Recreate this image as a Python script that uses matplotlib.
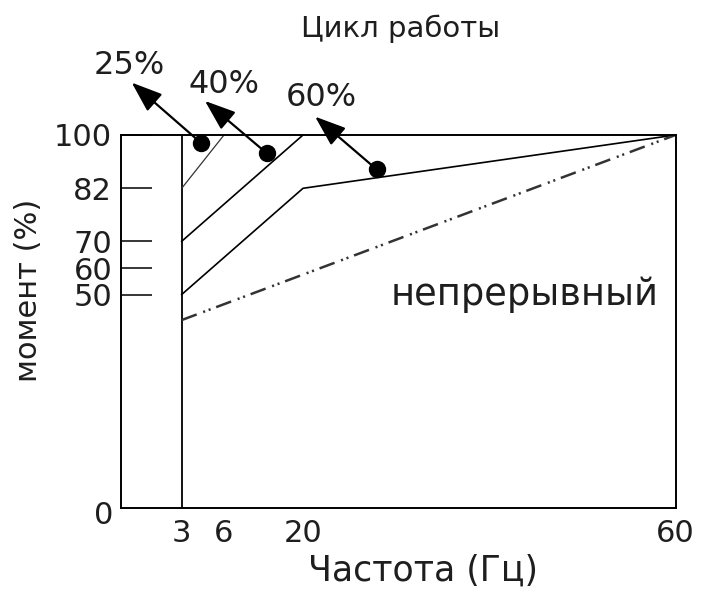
import numpy as np
import matplotlib
matplotlib.use("Agg")
import matplotlib.pyplot as plt
from matplotlib.scale import FuncScale

# ---- data -------------------------------------------------------------
freq_ticks = [3, 6, 20, 60]
torque_ticks = [50, 60, 70, 82, 100]

duty25_f, duty25_t = [3, 6], [82, 100]
duty40_f, duty40_t = [3, 20], [70, 100]
duty60_f, duty60_t = [3, 20, 60], [50, 82, 100]
cont_f, cont_t = [3, 60], [44, 100]

duty_labels = ["25%", "40%", "60%"]
marker_f = [4.35, 13.6, 27.9]
marker_t = [97.4, 93.8, 88.4]
tip_f = [0.55, 4.65, 21.3]
tip_t = [117.7, 111.5, 106.2]
label_f = [0.44, 6.0, 22.0]
label_t = [123.5, 116.9, 112.7]

# ---- schematic (piecewise-linear) axis geometry ------------------------
X_VALUES = [0, 3, 6, 20, 60]
X_STOPS = [0, 61.2, 103.5, 182.5, 555.0]
Y_VALUES = [0, 50, 60, 70, 82, 100]
Y_STOPS = [0, 213.0, 239.5, 266.2, 319.2, 372.5]


def piecewise(src, dst):
    src = np.asarray(src, float)
    dst = np.asarray(dst, float)
    s0 = (dst[1] - dst[0]) / (src[1] - src[0])
    s1 = (dst[-1] - dst[-2]) / (src[-1] - src[-2])

    def f(v):
        v = np.asarray(v, float)
        out = np.interp(v, src, dst)
        out = np.where(v < src[0], dst[0] + (v - src[0]) * s0, out)
        out = np.where(v > src[-1], dst[-1] + (v - src[-1]) * s1, out)
        return out
    return f


TEXT = "#1e1e1e"
plt.rcParams["font.family"] = ["DejaVu Sans"]
plt.rcParams["lines.scale_dashes"] = False

W, H = 705, 589
fig = plt.figure(figsize=(W / 100, H / 100), dpi=100)
ax = fig.add_axes([120.5 / W, 1 - 507.5 / H, 555 / W, 372.5 / H])

ax.set_xscale(FuncScale(ax, (piecewise(X_VALUES, X_STOPS), piecewise(X_STOPS, X_VALUES))))
ax.set_yscale(FuncScale(ax, (piecewise(Y_VALUES, Y_STOPS), piecewise(Y_STOPS, Y_VALUES))))
ax.set_xlim(0, 60)
ax.set_ylim(0, 100)

for s in ax.spines.values():
    s.set_linewidth(1.4)
    s.set_color("black")

# curves
ax.axvline(3, color="black", lw=1.3)
ax.plot(duty25_f, duty25_t, color="#333333", lw=0.9, solid_capstyle="butt")
ax.plot(duty40_f, duty40_t, color="black", lw=1.2)
ax.plot(duty60_f, duty60_t, color="black", lw=1.2)
ax.plot(cont_f, cont_t, color="#333333", lw=1.8,
        dashes=(11.5, 5.0, 1.5, 2.7, 1.5, 4.3))

# duty-cycle markers and arrows
for lab, mf, mt, tf, tt, lf, lt in zip(duty_labels, marker_f, marker_t,
                                        tip_f, tip_t, label_f, label_t):
    ax.plot([mf], [mt], "o", color="black", ms=11.5, clip_on=False, zorder=5)
    ax.annotate("", xy=(tf, tt), xytext=(mf, mt), annotation_clip=False,
                arrowprops=dict(arrowstyle="-|>,head_length=19,head_width=7",
                                mutation_scale=1, color="black", lw=1.6,
                                shrinkA=0, shrinkB=0))
    ax.text(lf, lt, lab, fontsize=23, color=TEXT, ha="center", va="center",
            clip_on=False)

# ticks
ax.set_xticks(freq_ticks)
ax.set_xticklabels([str(v) for v in freq_ticks])
ax.set_yticks(torque_ticks)
ax.set_yticklabels([str(v) for v in torque_ticks])
ax.tick_params(axis="x", length=0, pad=8, labelsize=22, labelcolor=TEXT)
ax.tick_params(axis="y", direction="in", length=22.3, width=1.1, pad=6,
               labelsize=22, labelcolor=TEXT)
ax.minorticks_off()
ax.annotate("0", xy=(0, 0), xytext=(-5.4, -5.8), textcoords="offset points",
            ha="right", va="center", fontsize=22, color=TEXT)

# labels
ax.text(0.729, 0.5436, "непрерывный", transform=ax.transAxes, fontsize=26.5,
        color=TEXT, ha="center", va="baseline")
fig.text(401 / W, 1 - 36.7 / H, "Цикл работы", fontsize=21, color=TEXT,
         ha="center", va="baseline")
fig.text(28.3 / W, 1 - 290 / H, "момент (%)", fontsize=22, color=TEXT,
         ha="center", va="center", rotation=90)
fig.text(423 / W, 1 - 571 / H, "Частота (Гц)", fontsize=25, color=TEXT,
         ha="center", va="center")

fig.savefig("out.png", dpi=100)
